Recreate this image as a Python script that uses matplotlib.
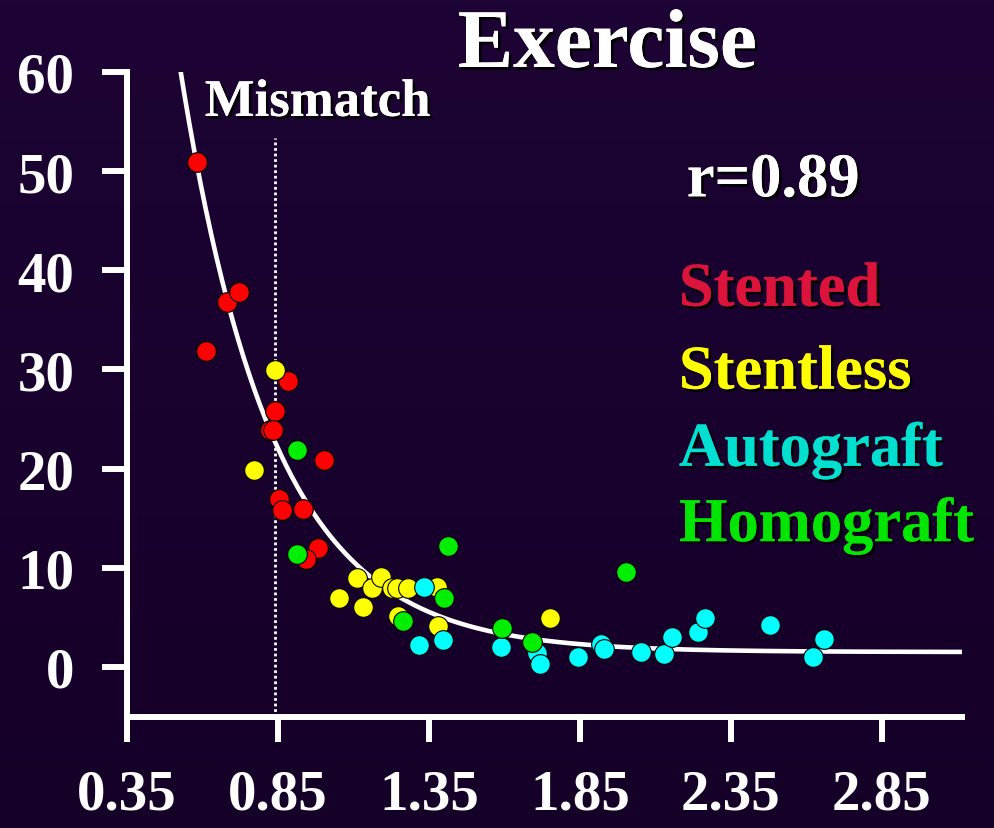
import numpy as np
import matplotlib
matplotlib.use("Agg")
import matplotlib.pyplot as plt
import matplotlib.patheffects as pe
from matplotlib.colors import LinearSegmentedColormap

# values
red_x = [0.582, 0.612, 0.681, 0.721, 0.883, 0.84, 0.823, 0.832, 1.002, 0.853, 0.863, 0.933, 0.982, 0.943]
red_y = [50.9, 31.9, 36.8, 37.8, 28.8, 25.8, 23.9, 23.9, 20.9, 16.9, 15.8, 15.9, 12.0, 10.9]

yellow_x = [0.84, 0.77, 1.052, 1.112, 1.131, 1.161, 1.191, 1.227, 1.245, 1.28, 1.376, 1.247, 1.38, 1.751]
yellow_y = [29.9, 19.9, 7.0, 9.0, 6.0, 8.0, 9.1, 8.0, 8.0, 8.0, 8.1, 5.1, 4.1, 4.9]

cyan_x = [1.333, 1.317, 1.396, 1.588, 1.708, 1.718, 1.843, 1.92, 1.93, 2.052, 2.128, 2.155, 2.24, 2.264, 2.479, 2.622, 2.658]
cyan_y = [8.1, 2.2, 2.7, 2.0, 1.4, 0.3, 1.0, 2.3, 1.8, 1.5, 1.3, 3.0, 3.5, 4.9, 4.2, 1.0, 2.8]

green_x = [0.912, 0.913, 1.413, 1.40, 1.264, 1.592, 1.691, 2.002]
green_y = [21.9, 11.4, 12.2, 7.0, 4.6, 3.9, 2.5, 9.6]

x_ticks = [0.35, 0.85, 1.35, 1.85, 2.35, 2.85]
x_tick_labels = ["0.35", "0.85", "1.35", "1.85", "2.35", "2.85"]
y_ticks = [0, 10, 20, 30, 40, 50, 60]

# exponential fit drawn on the slide
fit_c, fit_a, fit_b, fit_x0 = 1.5, 21.2, 3.25, 0.84
mismatch_x = 0.84

legend_names = ["Stented", "Stentless", "Autograft", "Homograft"]
legend_colors = ["#dc143c", "#ffff00", "#00e0d0", "#00e600"]

BG = "#1c0533"
plt.rcParams['font.family'] = ['Liberation Serif', 'DejaVu Serif']
plt.rcParams['font.weight'] = 'bold'

fig = plt.figure(figsize=(9.94, 8.29), dpi=100)
fig.patch.set_facecolor(BG)

# slight vertical gradient behind everything
bg_ax = fig.add_axes([0, 0, 1, 1], zorder=-10)
grad = np.linspace(0, 1, 256).reshape(-1, 1)
cmap = LinearSegmentedColormap.from_list("bg", ["#1d0434", "#150028"])
bg_ax.imshow(grad, aspect='auto', cmap=cmap, extent=[0, 1, 0, 1])
bg_ax.axis('off')

ax = fig.add_axes([0.1278, 0.1339, 0.8400, 0.7781])
ax.set_facecolor('none')

ax.set_xlim(0.35, 3.115)
ax.set_ylim(-5.05, 60)

# fit curve
xs = np.linspace(0.45, 3.115, 300)
ax.plot(xs, fit_c + fit_a * np.exp(-fit_b * (xs - fit_x0)), color='white', lw=3.3, zorder=2)

# mismatch line
ax.plot([mismatch_x, mismatch_x], [-5.05, 53.3], color='white', lw=2,
        dashes=(1, 1), zorder=1)

ms = 200
for xv, yv, col in [(red_x, red_y, '#ff0000'), (yellow_x, yellow_y, '#ffff00'),
                    (cyan_x, cyan_y, '#00ffff'), (green_x, green_y, '#00ee00')]:
    ax.scatter(xv, yv, s=ms, color=col, edgecolor='black', linewidth=0.8, zorder=3)

for side in ['top', 'right']:
    ax.spines[side].set_visible(False)
for side in ['left', 'bottom']:
    ax.spines[side].set_color('white')
    ax.spines[side].set_linewidth(4.3)

ax.set_xticks(x_ticks)
ax.set_xticklabels(x_tick_labels)
ax.set_yticks(y_ticks)
ax.tick_params(axis='both', colors='white', length=18, width=4.3, labelsize=41)
ax.tick_params(axis='y', pad=20)
ax.tick_params(axis='x', pad=19)
for lab in ax.get_xticklabels() + ax.get_yticklabels():
    lab.set_fontweight('bold')

shadow = [pe.withSimplePatchShadow(offset=(2, -2), shadow_rgbFace='black', alpha=0.9), pe.Normal()]

fig.text(0.611, 0.918, "Exercise", color='white', fontsize=60, ha='center', va='baseline',
         fontweight='bold', path_effects=shadow)
fig.text(0.206, 0.859, "Mismatch", color='white', fontsize=38, ha='left', va='baseline',
         fontweight='bold', path_effects=shadow)
fig.text(0.691, 0.762, "r=0.89", color='white', fontsize=45, ha='left', va='baseline',
         fontweight='bold', path_effects=shadow)

legend_y = [0.630, 0.530, 0.437, 0.346]
for name, col, yy in zip(legend_names, legend_colors, legend_y):
    fig.text(0.683, yy, name, color=col, fontsize=45, ha='left', va='baseline',
             fontweight='bold', path_effects=shadow)

fig.savefig("out.png", dpi=100, facecolor=fig.get_facecolor())
